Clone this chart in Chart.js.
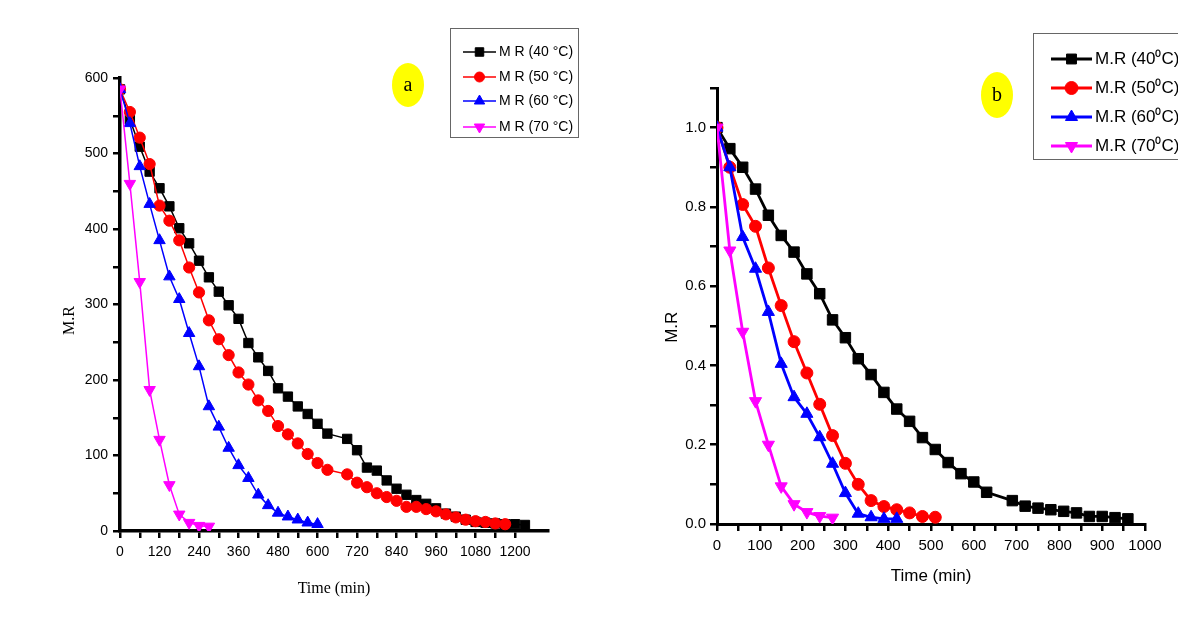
<!DOCTYPE html>
<html>
<head>
<meta charset="utf-8">
<script src="https://cdn.jsdelivr.net/npm/chart.js@4.4.0/dist/chart.umd.min.js"></script>
<style>
  html, body { margin: 0; padding: 0; background: #fff; }
  #wrap { position: relative; width: 1178px; height: 624px; overflow: hidden; }
  canvas { position: absolute; top: 0; }
  #chart-a { left: 0; }
  #chart-b { left: 635px; }
</style>
</head>
<body>
<div id="wrap">
  <canvas id="chart-a" width="600" height="624"></canvas>
  <canvas id="chart-b" width="543" height="624"></canvas>
</div>
<script>
// (a) moisture ratio, raw scale
const timeA40 = [0, 30, 60, 90, 120, 150, 180, 210, 240, 270, 300, 330, 360, 390, 420, 450, 480, 510, 540, 570, 600, 630,
  690, 720, 750, 780, 810, 840, 870, 900, 930, 960, 990, 1020, 1050, 1080, 1110, 1140, 1170, 1200, 1230];
const mrA40 = [585, 545, 509, 476, 454, 430, 401, 381, 358, 336, 317, 299, 281, 249, 230, 212, 189, 178, 165, 155, 142, 129,
  122, 107, 84, 80, 67, 56, 48, 41, 36, 30, 23, 19, 15, 12, 11, 10, 9, 9, 8];

const timeA50 = [0, 30, 60, 90, 120, 150, 180, 210, 240, 270, 300, 330, 360, 390, 420, 450, 480, 510, 540, 570, 600, 630,
  690, 720, 750, 780, 810, 840, 870, 900, 930, 960, 990, 1020, 1050, 1080, 1110, 1140, 1170];
const mrA50 = [585, 555, 521, 486, 431, 411, 385, 349, 316, 279, 254, 233, 210, 194, 173, 159, 139, 128, 116, 102, 90, 81,
  75, 64, 58, 50, 45, 40, 32, 32, 29, 26, 22, 18, 15, 13, 12, 10, 9];

const timeA60 = [0, 30, 60, 90, 120, 150, 180, 210, 240, 270, 300, 330, 360, 390, 420, 450, 480, 510, 540, 570, 600];
const mrA60 = [585, 540, 483, 433, 385, 337, 307, 262, 218, 165, 138, 110, 87, 70, 48, 34, 24, 19, 15, 11, 9];

const timeA70 = [0, 30, 60, 90, 120, 150, 180, 210, 240, 270];
const mrA70 = [585, 460, 330, 187, 121, 61, 22, 11, 7, 6];

// (b) normalised moisture ratio
const timeB40 = [0, 30, 60, 90, 120, 150, 180, 210, 240, 270, 300, 330, 360, 390, 420, 450, 480, 510, 540, 570, 600, 630,
  690, 720, 750, 780, 810, 840, 870, 900, 930, 960];
const mrB40 = [1.0, 0.947, 0.90, 0.845, 0.779, 0.728, 0.686, 0.631, 0.581, 0.515, 0.470, 0.417, 0.377, 0.332, 0.290, 0.259,
  0.218, 0.188, 0.155, 0.127, 0.106, 0.080, 0.059, 0.045, 0.040, 0.036, 0.032, 0.028, 0.019, 0.019, 0.016, 0.013];

const timeB50 = [0, 30, 60, 90, 120, 150, 180, 210, 240, 270, 300, 330, 360, 390, 420, 450, 480, 510];
const mrB50 = [1.0, 0.90, 0.806, 0.751, 0.646, 0.551, 0.46, 0.381, 0.302, 0.223, 0.153, 0.100, 0.059, 0.044, 0.036, 0.028, 0.019, 0.017];

const timeB60 = [0, 30, 60, 90, 120, 150, 180, 210, 240, 270, 300, 330, 360, 390, 420];
const mrB60 = [1.0, 0.90, 0.724, 0.644, 0.535, 0.404, 0.32, 0.278, 0.219, 0.152, 0.078, 0.026, 0.017, 0.013, 0.013];

const timeB70 = [0, 30, 60, 90, 120, 150, 180, 210, 240, 270];
const mrB70 = [1.0, 0.69, 0.485, 0.31, 0.20, 0.095, 0.05, 0.03, 0.02, 0.016];

const labelsA = ['M R (40 °C)', 'M R (50 °C)', 'M R (60 °C)', 'M R (70 °C)'];
const labelsB = ['M.R (40⁰C)', 'M.R (50⁰C)', 'M.R (60⁰C)', 'M.R (70⁰C)'];

const colors = ['#000000', '#ff0000', '#0000ff', '#ff00ff'];
const shapes = ['rect', 'circle', 'triangle', 'triangle'];
const turns = [0, 0, 0, 180];

const SANS = "'Liberation Sans', Arial, sans-serif";
const SERIF = "'Liberation Serif', 'Times New Roman', serif";

function pairs(ts, vs) {
  return ts.map((t, i) => ({ x: t, y: vs[i] }));
}

function makeSets(series, labels, lineW, radii) {
  return series.map((s, i) => ({
    label: labels[i],
    data: pairs(s[0], s[1]),
    borderColor: colors[i],
    backgroundColor: colors[i],
    pointBackgroundColor: colors[i],
    pointBorderColor: colors[i],
    borderWidth: lineW,
    pointStyle: shapes[i],
    pointRotation: turns[i],
    pointRadius: radii[i],
    pointBorderWidth: 1,
    tension: 0,
    order: 4 - i,
  }));
}

// boxed legend drawn inside the plot, the way the figure has it
const boxLegend = {
  id: 'boxLegend',
  afterDraw(chart, args, o) {
    const ctx = chart.ctx;
    ctx.save();
    ctx.strokeStyle = '#666';
    ctx.lineWidth = 1;
    ctx.strokeRect(o.x + 0.5, o.y + 0.5, o.w, o.h);
    chart.data.datasets.forEach((ds, i) => {
      const y = o.rows[i];
      ctx.strokeStyle = ds.borderColor;
      ctx.lineWidth = o.lineWidth;
      ctx.beginPath();
      ctx.moveTo(o.x0, y);
      ctx.lineTo(o.x1, y);
      ctx.stroke();
      ctx.fillStyle = ds.pointBackgroundColor;
      ctx.strokeStyle = ds.pointBorderColor;
      ctx.lineWidth = 1;
      Chart.helpers.drawPoint(ctx, {
        pointStyle: ds.pointStyle,
        rotation: ds.pointRotation,
        radius: o.radius[i],
        borderWidth: 1,
      }, (o.x0 + o.x1) / 2, y);
      ctx.fillStyle = '#000';
      ctx.font = o.font;
      ctx.textBaseline = 'middle';
      ctx.textAlign = 'left';
      ctx.fillText(ds.label, o.textX, y);
    });
    ctx.restore();
  }
};

// yellow panel tag
const panelTag = {
  id: 'panelTag',
  afterDraw(chart, args, o) {
    const ctx = chart.ctx;
    ctx.save();
    ctx.fillStyle = '#ffff00';
    ctx.beginPath();
    ctx.ellipse(o.x, o.y, o.rx, o.ry, 0, 0, Math.PI * 2);
    ctx.fill();
    ctx.fillStyle = '#000';
    ctx.font = o.font;
    ctx.textAlign = 'center';
    ctx.textBaseline = 'middle';
    ctx.fillText(o.text, o.x, o.y + 1);
    ctx.restore();
  }
};

function axis(opt) {
  return {
    type: 'linear',
    min: opt.min,
    max: opt.max,
    border: { display: true, color: '#000', width: opt.axisW },
    grid: { drawOnChartArea: false, drawTicks: true, tickLength: 7, color: '#000', lineWidth: opt.tickW },
    ticks: {
      stepSize: opt.step,
      autoSkip: false,
      maxRotation: 0,
      padding: opt.pad,
      color: '#000',
      font: opt.tickFont,
      callback: opt.label,
    },
    title: { display: true, text: opt.title, color: '#000', font: opt.titleFont, padding: opt.titlePad },
    afterBuildTicks: opt.keep ? (s) => { s.ticks = s.ticks.filter(opt.keep); } : undefined,
    afterFit: (s) => {
      if (opt.h) s.height = opt.h;
      if (opt.w) s.width = opt.w;
    },
  };
}

new Chart(document.getElementById('chart-a'), {
  type: 'line',
  data: {
    datasets: makeSets(
      [[timeA40, mrA40], [timeA50, mrA50], [timeA60, mrA60], [timeA70, mrA70]],
      labelsA, 1.5, [6.6, 5.6, 6.6, 6.6]
    ),
  },
  options: {
    responsive: false,
    animation: false,
    devicePixelRatio: 1,
    layout: { padding: { top: 78, right: 52, left: 0, bottom: 0 } },
    scales: {
      x: axis({
        min: 0, max: 1300, step: 60, axisW: 3.5, tickW: 2.5, pad: 6, h: 93,
        tickFont: { family: SANS, size: 14 },
        label: (v) => (v % 120 === 0 ? v : ''),
        keep: (t) => t.value <= 1260,
        title: 'Time (min)',
        titleFont: { family: SERIF, size: 16 },
        titlePad: { top: 0, bottom: 26 },
      }),
      y: axis({
        min: 0, max: 600, step: 50, axisW: 3.5, tickW: 2.5, pad: 5, w: 120,
        tickFont: { family: SANS, size: 14 },
        label: (v) => (v % 100 === 0 ? v : ''),
        // trailing spaces push the rotated title a little below the middle
        title: 'M.R        ',
        titleFont: { family: SERIF, size: 16 },
        titlePad: { top: 60, bottom: 0 },
      }),
    },
    plugins: {
      legend: { display: false },
      tooltip: { enabled: false },
      boxLegend: {
        x: 450, y: 28, w: 128, h: 109,
        rows: [52, 77, 101, 127],
        x0: 463, x1: 496, textX: 499,
        lineWidth: 1.5, radius: [6, 5, 6, 6],
        font: "14px " + SANS,
      },
      panelTag: { x: 408, y: 85, rx: 16, ry: 22, text: 'a', font: "20px " + SERIF },
    },
  },
  plugins: [boxLegend, panelTag],
});

new Chart(document.getElementById('chart-b'), {
  type: 'line',
  data: {
    datasets: makeSets(
      [[timeB40, mrB40], [timeB50, mrB50], [timeB60, mrB60], [timeB70, mrB70]],
      labelsB, 2.8, [7.4, 6, 7, 7]
    ),
  },
  options: {
    responsive: false,
    animation: false,
    devicePixelRatio: 1,
    layout: { padding: { top: 88, right: 33, left: 0, bottom: 0 } },
    scales: {
      x: axis({
        min: 0, max: 1000, step: 50, axisW: 3, tickW: 2.5, pad: 6, h: 100,
        tickFont: { family: SANS, size: 15 },
        label: (v) => (v % 100 === 0 ? v : ''),
        title: 'Time (min)',
        titleFont: { family: SANS, size: 17 },
        titlePad: { top: 0, bottom: 37 },
      }),
      y: axis({
        min: 0, max: 1.1, step: 0.1, axisW: 3, tickW: 2.5, pad: 4, w: 82,
        tickFont: { family: SANS, size: 15 },
        label: (v) => (Math.round(v * 10) % 2 === 0 ? v.toFixed(1) : ''),
        title: 'M.R         ',
        titleFont: { family: SANS, size: 17 },
        titlePad: { top: 27, bottom: 0 },
      }),
    },
    plugins: {
      legend: { display: false },
      tooltip: { enabled: false },
      boxLegend: {
        x: 398, y: 33, w: 200, h: 126,
        rows: [59, 88, 117, 146],
        x0: 416, x1: 457, textX: 460,
        lineWidth: 3, radius: [7, 6.5, 7, 7],
        font: "17px " + SANS,
      },
      panelTag: { x: 362, y: 95, rx: 16, ry: 23, text: 'b', font: "20px " + SERIF },
    },
  },
  plugins: [boxLegend, panelTag],
});
</script>
</body>
</html>
